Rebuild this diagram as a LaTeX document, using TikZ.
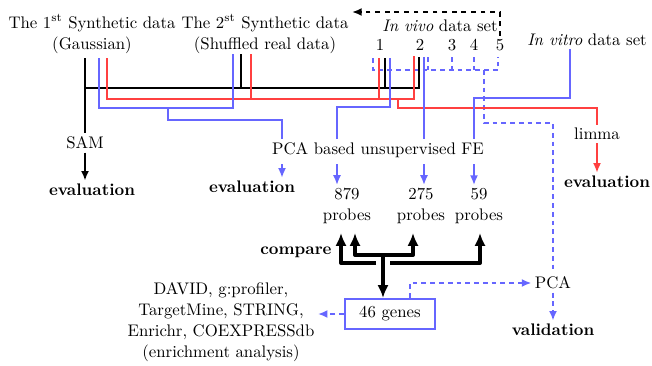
\documentclass[tikz,border=0pt]{standalone}
\usepackage{tikz}
\usetikzlibrary{arrows.meta,positioning,calc}
\definecolor{lineblue}{RGB}{102,102,255}
\definecolor{linered}{RGB}{255,64,64}
\tikzset{
    % text nodes and lines
    label/.style={inner sep=2pt, align=center, font=\fontsize{10.5}{13}\selectfont},
    result/.style={label, font=\fontsize{10.5}{13}\selectfont\bfseries},
    kline/.style={draw=black, line width=1pt},
    rline/.style={draw=linered, line width=1pt},
    bline/.style={draw=lineblue, line width=1pt},
    dline/.style={draw=lineblue, line width=1.2pt, dash pattern=on 3pt off 2.5pt},
    thinarrow/.style={-{Latex[length=6pt,width=5pt]}, line width=0.9pt},
    bigarrow/.style={-{Latex[length=8pt,width=7pt]}, line width=2.5pt, line join=round},
    genebox/.style={rectangle, draw=lineblue, line width=1.3pt, fill=white,
        minimum width=1.98cm, minimum height=0.66cm, inner sep=2pt,
        font=\fontsize{10.5}{13}\selectfont}
}
\begin{document}
\begin{tikzpicture}[x=0.022cm, y=-0.022cm]
\useasboundingbox (0,0) rectangle (652,365);

% data sets
\node[label] (syn1) at (92,34) {The 1\textsuperscript{st} Synthetic data\\(Gaussian)};
\node[label] (syn2) at (265,34) {The 2\textsuperscript{st} Synthetic data\\(Shuffled real data)};
\node[label] (vivo) at (440,26) {\textit{In vivo} data set};
\node[label] (v1) at (380,45) {1};
\node[label] (v2) at (420,45) {2};
\node[label] (v3) at (452,45) {3};
\node[label] (v4) at (474,45) {4};
\node[label] (v5) at (500,45) {5};
\node[label] (vitro) at (587,40) {\textit{In vitro} data set};

% methods
\node[label] (sam) at (85,143) {SAM};
\node[label] (pcafe) at (378,150) {PCA based unsupervised FE};
\node[label] (limma) at (597,134) {limma};
\node[label] (pca) at (553,283) {PCA};

% results
\node[result] (evalsam) at (92,190) {evaluation};
\node[result] (evalpca) at (252,187) {evaluation};
\node[result] (evallimma) at (607,182) {evaluation};
\node[label] (p879) at (347,206) {879\\probes};
\node[label] (p275) at (421,206) {275\\probes};
\node[label] (p59) at (479,206) {59\\probes};
\node[result] (compare) at (296,252) {compare};
\node[genebox] (genes) at (390,314) {46 genes};
\node[label] (enrich) at (221,322) {DAVID, g:profiler,\\TargetMine, STRING,\\Enrichr, COEXPRESSdb\\(enrichment analysis)};
\node[result] (valid) at (553,330) {validation};

% line starts
\coordinate (k1) at (85,58);  \coordinate (k2) at (241,54);
\coordinate (k3) at (385,58); \coordinate (k4) at (419,57);
\coordinate (r1) at (107,58); \coordinate (r2) at (251,54);
\coordinate (r3) at (379,58); \coordinate (r4) at (414,56);
\coordinate (b1) at (99,58);  \coordinate (b2) at (233,54);
\coordinate (b3) at (390,58); \coordinate (b4) at (424,57);
\coordinate (b5) at (570,49);
\coordinate (back) at (352,12);
\coordinate (fe1) at (282,0); \coordinate (fe2) at (337,0);
\coordinate (fe3) at (424,0); \coordinate (fe4) at (474,0);
\coordinate (gtap) at (410,0);

% dashed sampling of in vivo data
\draw[dline] (373,58) -- (373,70) -- (498,70) -- (498,57);
\foreach \x in {428,452,474} \draw[dline] (\x,57) -- (\x,70);
\draw[dline] (484,70) -- (484,123) -| (pca.north);
\draw[dashed, line width=1.3pt, -{Latex[length=6pt,width=5pt]}] (v5.north) |- (back);

% black: SAM
\draw[kline] (k2) -- (241,88);
\draw[kline] (k3) -- (385,88);
\draw[kline] (k4) |- (85,88);
\draw[kline] (k1) -- (k1 |- sam.north);
\draw[thinarrow, line width=1.3pt] (sam.south) -- (sam.south |- evalsam.north);

% red: limma
\draw[rline] (r4) |- (107,99) -- (r1);
\draw[rline] (r2) -- (251,99);
\draw[rline] (r3) -- (379,99);
\draw[rline] (398,99) -- (398,108) -| (limma.north);
\draw[rline, thinarrow] (limma.south) -- (limma.south |- evallimma.north);

% blue: PCA based unsupervised FE
\draw[bline] (b1) |- (233,108) -- (b2);
\draw[bline] (168,108) |- (282,120) -- (fe1 |- pcafe.north);
\draw[bline] (b3) |- (337,107) -- (fe2 |- pcafe.north);
\draw[bline] (b4) -- (fe3 |- pcafe.north);
\draw[bline] (b5) |- (474,98) -- (fe4 |- pcafe.north);
\draw[lineblue, thinarrow] ($(fe1 |- pcafe.south)+(0,3)$) -- (fe1 |- evalpca.north);
\draw[lineblue, thinarrow] ($(fe2 |- pcafe.south)+(0,3)$) -- (fe2 |- p879.north);
\draw[lineblue, thinarrow] ($(fe3 |- pcafe.south)+(0,3)$) -- (fe3 |- p275.north);
\draw[lineblue, thinarrow] ($(fe4 |- pcafe.south)+(0,3)$) -- (fe4 |- p59.north);

% compare
\coordinate (c1) at (341,233); \coordinate (c2) at (355,233);
\coordinate (c3) at (413,233); \coordinate (c4) at (480,233);
\coordinate (trunk) at (383,255);
\draw[bigarrow] (376,263) -| (c1);
\draw[bigarrow] (390,263) -| (c4);
\draw[bigarrow, {Latex[length=8pt,width=7pt]}-{Latex[length=8pt,width=7pt]}] (c2) |- (413,255) -- (c3);
\draw[bigarrow] (trunk) -- (trunk |- genes.north);

% 46 genes
\draw[dline, -{Latex[length=6pt,width=5pt]}] (genes.west) -- (genes.west -| enrich.east);
\draw[dline, -{Latex[length=6pt,width=5pt]}] (gtap |- genes.north) |- (pca.west);
\draw[dline, -{Latex[length=6pt,width=5pt]}] (pca) -- (valid);

\end{tikzpicture}
\end{document}
